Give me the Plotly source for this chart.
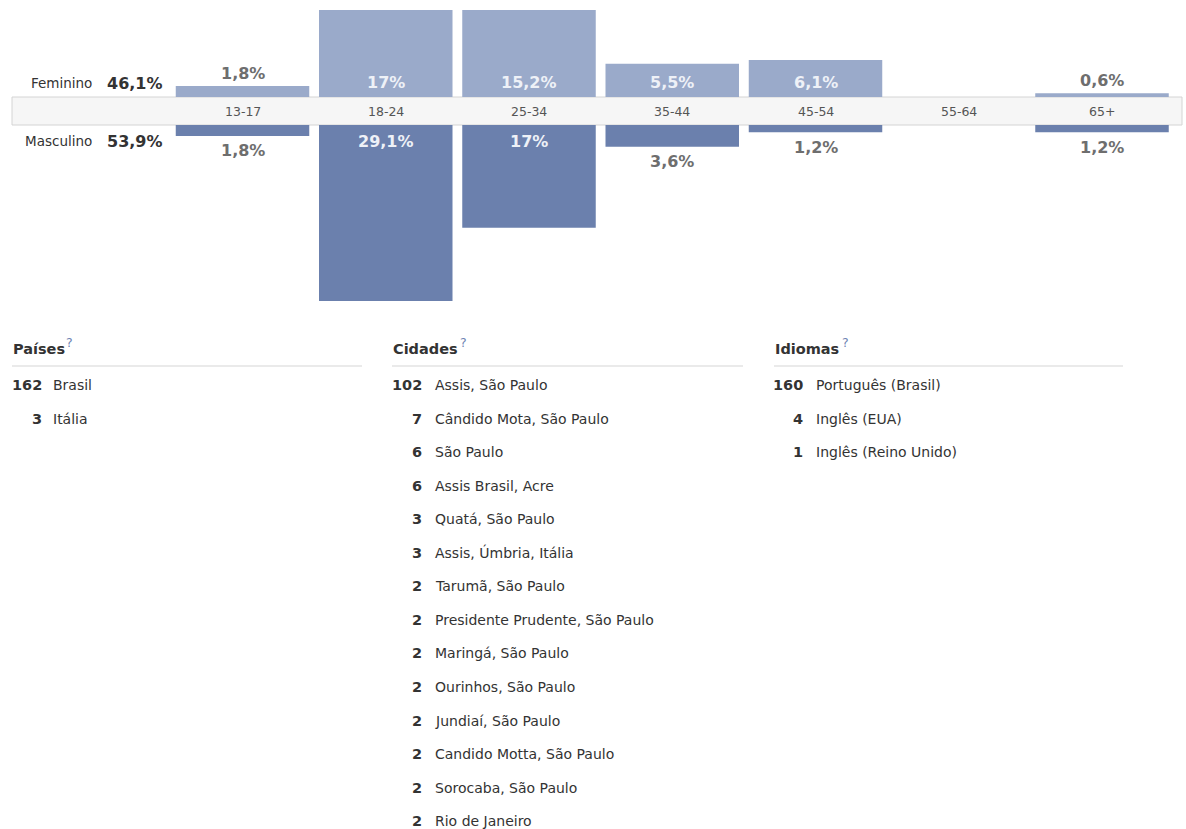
import plotly.graph_objects as go

# ---------------- data ----------------
age_groups = ["13-17", "18-24", "25-34", "35-44", "45-54", "55-64", "65+"]
female_pct = [1.8, 17.0, 15.2, 5.5, 6.1, 0.0, 0.6]
male_pct = [1.8, 29.1, 17.0, 3.6, 1.2, 0.0, 1.2]
female_label = "Feminino"
male_label = "Masculino"
female_total = "46,1%"
male_total = "53,9%"

countries_n = [162, 3]
countries = ["Brasil", "Itália"]
cities_n = [102, 7, 6, 6, 3, 3, 2, 2, 2, 2, 2, 2, 2, 2]
cities = ["Assis, São Paulo", "Cândido Mota, São Paulo", "São Paulo", "Assis Brasil, Acre",
          "Quatá, São Paulo", "Assis, Úmbria, Itália", "Tarumã, São Paulo",
          "Presidente Prudente, São Paulo", "Maringá, São Paulo", "Ourinhos, São Paulo",
          "Jundiaí, São Paulo", "Candido Motta, São Paulo", "Sorocaba, São Paulo",
          "Rio de Janeiro"]
languages_n = [160, 4, 1]
languages = ["Português (Brasil)", "Inglês (EUA)", "Inglês (Reino Unido)"]
headings = ["Países", "Cidades", "Idiomas"]

# ---------------- layout constants ----------------
W, H = 1186, 829
TOP = 10
K = 6.05            # px per percent
CENTER = 111        # px, centre of the age band
HALF = 14 / K       # band half-height in data units
PERIOD = 143.25
X0 = 242.5

FONT = "DejaVu Sans"
F_COLOR = "#9aaaca"
M_COLOR = "#6b80ad"
IN_TXT = "#eef1f7"
OUT_TXT = "#6e6e6e"

def pct(v):
    s = ("%.1f" % v).replace(".", ",")
    if s.endswith(",0"):
        s = s[:-2]
    return s + "%"

def px_x(p):
    return p / W

def px_y(p):
    return (H - p) / (H - TOP)

x_idx = list(range(len(age_groups)))

fig = go.Figure()
fig.add_trace(go.Bar(x=x_idx, y=female_pct, base=HALF, marker=dict(color=F_COLOR, line=dict(width=0)),
                     width=0.932, name=female_label, hoverinfo="skip"))
fig.add_trace(go.Bar(x=x_idx, y=[-v for v in male_pct], base=-HALF,
                     marker=dict(color=M_COLOR, line=dict(width=0)),
                     width=0.932, name=male_label, hoverinfo="skip"))

ann = []
shapes = []

def A(**kw):
    kw.setdefault("showarrow", False)
    kw.setdefault("xanchor", "center")
    kw.setdefault("yanchor", "middle")
    ann.append(kw)

# age band
shapes.append(dict(type="rect", xref="paper", yref="y", x0=px_x(12), x1=px_x(1182),
                   y0=-HALF, y1=HALF, fillcolor="#f6f6f6",
                   line=dict(color="#d4d4d4", width=1), layer="below"))
for i, g in enumerate(age_groups):
    A(x=i, y=0, xref="x", yref="y", text=g, font=dict(family=FONT, size=12.5, color="#555555"))

THRESH = 4.5
for i, v in enumerate(female_pct):
    if v <= 0:
        continue
    if v >= THRESH:
        A(x=i, y=HALF, xref="x", yref="y", yshift=15, text="<b>%s</b>" % pct(v),
          font=dict(family=FONT, size=16, color=IN_TXT))
    else:
        A(x=i, y=HALF + v, xref="x", yref="y", yshift=13, text="<b>%s</b>" % pct(v),
          font=dict(family=FONT, size=16, color=OUT_TXT))
for i, v in enumerate(male_pct):
    if v <= 0:
        continue
    if v >= THRESH:
        A(x=i, y=-HALF, xref="x", yref="y", yshift=-16, text="<b>%s</b>" % pct(v),
          font=dict(family=FONT, size=16, color=IN_TXT))
    else:
        A(x=i, y=-HALF - v, xref="x", yref="y", yshift=-15, text="<b>%s</b>" % pct(v),
          font=dict(family=FONT, size=16, color=OUT_TXT))

# gender totals
A(x=px_x(94), y=HALF, xref="paper", yref="y", yshift=14, xanchor="right",
  text=female_label, font=dict(family=FONT, size=13.5, color="#333333"))
A(x=px_x(105), y=HALF, xref="paper", yref="y", yshift=14, xanchor="left",
  text="<b>%s</b>" % female_total, font=dict(family=FONT, size=16, color="#333333"))
A(x=px_x(94), y=-HALF, xref="paper", yref="y", yshift=-16, xanchor="right",
  text=male_label, font=dict(family=FONT, size=13.5, color="#333333"))
A(x=px_x(105), y=-HALF, xref="paper", yref="y", yshift=-16, xanchor="left",
  text="<b>%s</b>" % male_total, font=dict(family=FONT, size=16, color="#333333"))

# lists
cols = [
    (12, 362, 44, 51, 64, countries_n, countries),
    (392, 743, 424, 433, 458, cities_n, cities),
    (774, 1123, 805, 814, 840, languages_n, languages),
]
ROW0 = 385
ROWH = 33.55
for (hx, lx1, nx, tx, qx, nums, names), head in zip(cols, headings):
    A(x=px_x(hx - 1), y=px_y(349), xref="paper", yref="paper", xanchor="left",
      text="<b>%s</b>" % head, font=dict(family=FONT, size=14.5, color="#333333"))
    A(x=px_x(qx), y=px_y(342), xref="paper", yref="paper", xanchor="left",
      text="?", font=dict(family=FONT, size=12.5, color="#6d84b4"))
    shapes.append(dict(type="line", xref="paper", yref="paper", x0=px_x(hx), x1=px_x(lx1),
                       y0=px_y(366), y1=px_y(366), line=dict(color="#e3e3e3", width=1.5)))
    for k, (n, name) in enumerate(zip(nums, names)):
        yy = px_y(ROW0 + ROWH * k)
        A(x=px_x(nx), y=yy, xref="paper", yref="paper", xanchor="right",
          text="<b>%d</b>" % n, font=dict(family=FONT, size=14.5, color="#333333"))
        A(x=px_x(tx), y=yy, xref="paper", yref="paper", xanchor="left",
          text=name, font=dict(family=FONT, size=14, color="#333333"))

fig.update_layout(
    width=W, height=H,
    margin=dict(l=0, r=0, t=TOP, b=0, pad=0),
    paper_bgcolor="white", plot_bgcolor="white",
    showlegend=False, barmode="overlay",
    xaxis=dict(range=[-X0 / PERIOD, (W - X0) / PERIOD], visible=False, fixedrange=True),
    yaxis=dict(range=[(CENTER - H) / K, (CENTER - TOP) / K], visible=False, fixedrange=True),
    annotations=ann, shapes=shapes,
)

fig.write_html("out.html", config={"displayModeBar": False})
